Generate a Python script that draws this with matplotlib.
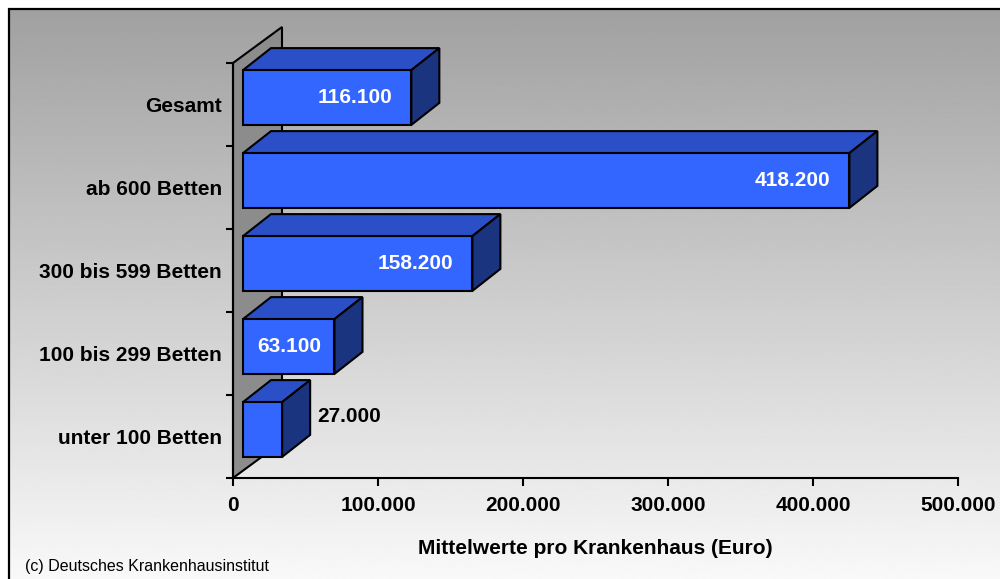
import numpy as np
import matplotlib
matplotlib.use("Agg")
import matplotlib.pyplot as plt
from matplotlib.patches import Polygon, Rectangle
from matplotlib.transforms import IdentityTransform

plt.rcParams['font.family'] = ['Liberation Sans', 'DejaVu Sans']

# data, bottom to top
categories = ["unter 100 Betten", "100 bis 299 Betten", "300 bis 599 Betten",
              "ab 600 Betten", "Gesamt"]
values = [27000, 63100, 158200, 418200, 116100]
value_labels = ["27.000", "63.100", "158.200", "418.200", "116.100"]
xticks = [0, 100000, 200000, 300000, 400000, 500000]
xtick_labels = ["0", "100.000", "200.000", "300.000", "400.000", "500.000"]

FRONT = "#3366FF"
TOP = "#2A4FC6"
SIDE = "#1B3480"
WALL = "#8C8C8C"

fig = plt.figure(figsize=(10, 5.79), dpi=100, facecolor="white")

# chart area: grey-to-white gradient inside a black frame
left, top = 0.0085, 1 - 9 / 579
bg = fig.add_axes([0, 0, 1, 1], zorder=-10)
grad = np.linspace(0.975, 0.63, 256).reshape(-1, 1)
bg.imshow(grad, cmap="gray", vmin=0, vmax=1, aspect="auto",
          extent=[left, 1.0, 0, top], origin="lower")
bg.set_xlim(0, 1)
bg.set_ylim(0, 1)
bg.axis("off")
bg.add_patch(Rectangle((left, -0.1), 1.1, top + 0.1, fill=False, lw=1.6,
                       ec="black", transform=bg.transAxes))

ax = fig.add_axes([0.233, 1 - 478 / 579, 0.725, (478 - 63) / 579])
ax.set_facecolor("none")
ax.set_xlim(0, 500000)
ax.set_ylim(0, 5)
for s in ("top", "right"):
    ax.spines[s].set_visible(False)
ax.spines["left"].set_linewidth(1.5)
ax.spines["bottom"].set_linewidth(1.5)

ax.set_xticks(xticks)
ax.set_xticklabels(xtick_labels, fontsize=15, fontweight="bold")
ax.tick_params(axis="x", direction="out", length=6, width=1.5, pad=7)
ax.set_yticks(range(6))
ax.set_yticklabels([])
ax.tick_params(axis="y", which="major", direction="out", length=5, width=1.5)
ax.set_yticks(np.arange(5) + 0.5, minor=True)
ax.set_yticklabels(categories, minor=True, fontsize=15, fontweight="bold")
ax.tick_params(axis="y", which="minor", length=0, pad=8)

# depth offsets in pixels: bar front plane, bar back plane, back wall
fx, fy = 10, 7
bx, by = 38, 29
wx, wy = 49, 36
h = 0.66
T = ax.transData


def face(pts, color):
    p = Polygon(pts, closed=True, fc=color, ec="black", lw=1.5, joinstyle="miter",
                transform=IdentityTransform(), clip_on=False, zorder=2)
    ax.add_patch(p)


# back wall
(w0x, w0y), (_, w1y) = T.transform([(0, 0), (0, 5)])
face([(w0x, w0y), (w0x, w1y), (w0x + wx, w1y + wy), (w0x + wx, w0y + wy)], WALL)

for i, v in enumerate(values):
    (x0, y0), (x1, y1) = T.transform([(0, i + 0.5 - h / 2), (v, i + 0.5 + h / 2)])
    face([(x0 + fx, y1 + fy), (x1 + fx, y1 + fy), (x1 + bx, y1 + by), (x0 + bx, y1 + by)], TOP)
    face([(x1 + fx, y0 + fy), (x1 + bx, y0 + by), (x1 + bx, y1 + by), (x1 + fx, y1 + fy)], SIDE)
    face([(x0 + fx, y0 + fy), (x1 + fx, y0 + fy), (x1 + fx, y1 + fy), (x0 + fx, y1 + fy)], FRONT)

for i, (v, lab) in enumerate(zip(values, value_labels)):
    if v < 50000:
        ax.annotate(lab, (v, i + 0.5), xytext=(45, 20), textcoords="offset pixels",
                    ha="left", va="center", fontsize=15, fontweight="bold",
                    color="black", zorder=5)
    else:
        dx = -3 if v < 100000 else -9
        ax.annotate(lab, (v, i + 0.5), xytext=(dx, 7), textcoords="offset pixels",
                    ha="right", va="center", fontsize=15, fontweight="bold",
                    color="white", zorder=5, annotation_clip=False)

fig.text(0.5955, 1 - 549 / 579, "Mittelwerte pro Krankenhaus (Euro)",
         ha="center", va="center", fontsize=15, fontweight="bold")
fig.text(0.025, 1 - 566 / 579, "(c) Deutsches Krankenhausinstitut",
         ha="left", va="center", fontsize=11.5)

fig.savefig("out.png", dpi=100, facecolor="white")
